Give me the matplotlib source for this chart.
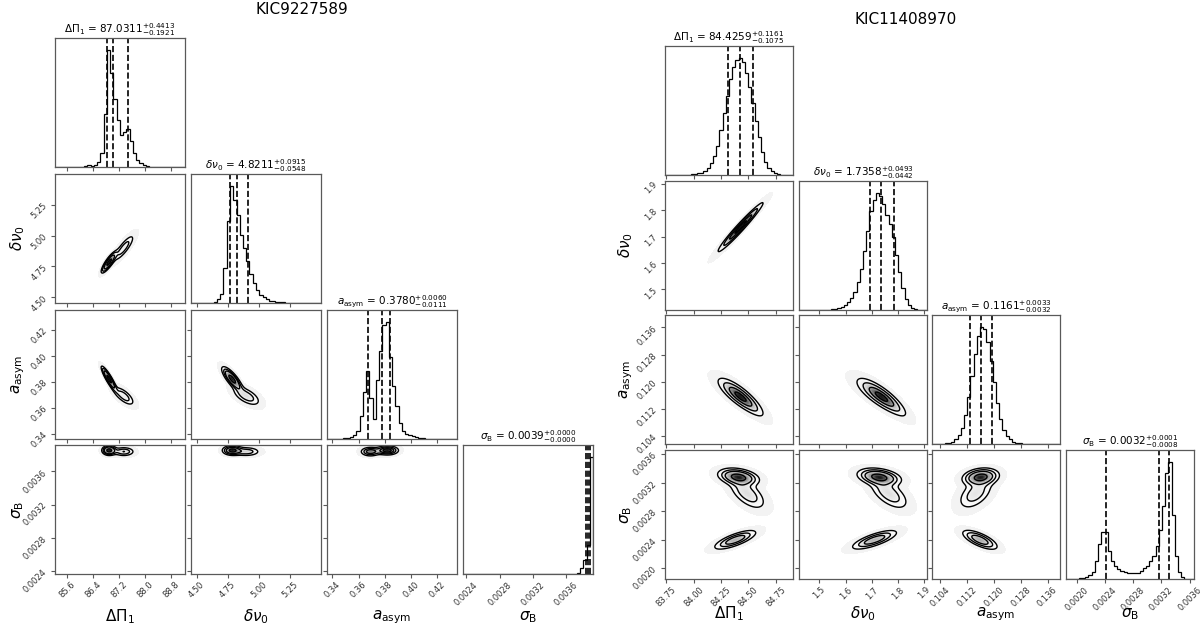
import numpy as np
import matplotlib.pyplot as plt
from matplotlib.colors import LinearSegmentedColormap

W, H = 1200, 628
fig = plt.figure(figsize=(12, 6.28), dpi=100)

labels = [r"$\Delta\Pi_1$", r"$\delta\nu_0$", r"$a_{\rm asym}$", r"$\sigma_{\rm B}$"]

# ---------------- KIC9227589 ----------------
L_ranges = [(85.24, 89.23), (4.454, 5.50), (0.336, 0.435), (0.00236, 0.00392)]
L_ticks = [[85.6, 86.4, 87.2, 88.0, 88.8], [4.50, 4.75, 5.00, 5.25],
           [0.34, 0.36, 0.38, 0.40, 0.42], [0.0024, 0.0028, 0.0032, 0.0036]]
L_ticklabels = [["85.6", "86.4", "87.2", "88.0", "88.8"], ["4.50", "4.75", "5.00", "5.25"],
                ["0.34", "0.36", "0.38", "0.40", "0.42"], ["0.0024", "0.0028", "0.0032", "0.0036"]]
L_titles = [r"$\Delta\Pi_1$ = $87.0311_{-0.1921}^{+0.4413}$",
            r"$\delta\nu_0$ = $4.8211_{-0.0548}^{+0.0915}$",
            r"$a_{\rm asym}$ = $0.3780_{-0.0111}^{+0.0060}$",
            r"$\sigma_{\rm B}$ = $0.0039_{-0.0000}^{+0.0000}$"]
L_quant = [[86.839, 87.031, 87.472], [4.766, 4.821, 4.913],
           [0.3669, 0.3780, 0.3840], [0.00383, 0.003856, 0.003878]]
L_hist_dp = [0, 0, 0, 0, 0, 0, 0, 0, 0, 0.01, 0.015, 0.01, 0.02, 0.04, 0.12, 0.45, 1.0, 0.8, 0.58, 0.4,
             0.27, 0.3, 0.32, 0.22, 0.12, 0.06, 0.03, 0.015, 0.008, 0.004, 0, 0, 0, 0, 0, 0, 0, 0, 0, 0]
L_hist_dnu = [0, 0, 0, 0, 0, 0, 0, 0.01, 0.03, 0.08, 0.3, 0.7, 1.0, 0.88, 0.75, 0.58, 0.47, 0.36, 0.25, 0.17,
              0.11, 0.07, 0.05, 0.03, 0.02, 0.015, 0.01, 0.008, 0.005, 0.003, 0, 0, 0, 0, 0, 0, 0, 0, 0, 0]
L_hist_a = [0, 0, 0, 0, 0, 0.005, 0.01, 0.015, 0.03, 0.07, 0.2, 0.4, 0.58, 0.35, 0.17, 0.5, 0.75, 0.97, 1.0, 0.7,
            0.45, 0.28, 0.14, 0.07, 0.04, 0.03, 0.025, 0.02, 0.01, 0.006, 0.003, 0, 0, 0, 0, 0, 0, 0, 0, 0]
L_hist_sb = [0, 0, 0, 0, 0, 0, 0, 0, 0, 0, 0, 0, 0, 0, 0, 0, 0, 0, 0, 0,
             0, 0, 0, 0, 0, 0, 0, 0, 0, 0, 0, 0, 0, 0, 0.003, 0.01, 0.05, 0.12, 0.25, 1.0]
# mixture components: weight, means, sds, correlations (01, 02, 03, 12, 13, 23)
L_weights = [0.6, 0.4]
L_means = [[86.9, 4.785, 0.382, 0.003855], [87.35, 4.90, 0.369, 0.00384]]
L_sds = [[0.11, 0.04, 0.0045, 0.00003], [0.18, 0.06, 0.004, 0.00003]]
L_corr = [[0.85, -0.9, 0.0, -0.8, 0.0, 0.0], [0.85, -0.7, 0.0, -0.6, 0.0, 0.0]]

# ---------------- KIC11408970 ----------------
R_ranges = [(83.74, 84.906), (1.422, 1.910), (0.1015, 0.1397), (0.00185, 0.00366)]
R_ticks = [[83.75, 84.00, 84.25, 84.50, 84.75], [1.5, 1.6, 1.7, 1.8, 1.9],
           [0.104, 0.112, 0.120, 0.128, 0.136], [0.0020, 0.0024, 0.0028, 0.0032, 0.0036]]
R_ticklabels = [["83.75", "84.00", "84.25", "84.50", "84.75"], ["1.5", "1.6", "1.7", "1.8", "1.9"],
                ["0.104", "0.112", "0.120", "0.128", "0.136"],
                ["0.0020", "0.0024", "0.0028", "0.0032", "0.0036"]]
R_titles = [r"$\Delta\Pi_1$ = $84.4259_{-0.1075}^{+0.1161}$",
            r"$\delta\nu_0$ = $1.7358_{-0.0442}^{+0.0493}$",
            r"$a_{\rm asym}$ = $0.1161_{-0.0032}^{+0.0033}$",
            r"$\sigma_{\rm B}$ = $0.0032_{-0.0008}^{+0.0001}$"]
R_quant = [[84.318, 84.426, 84.542], [1.6916, 1.7358, 1.7851],
           [0.1129, 0.1161, 0.1194], [0.00242, 0.00317, 0.00331]]
R_hist_dp = [0, 0, 0, 0, 0, 0, 0, 0, 0.005, 0.01, 0.015, 0.02, 0.035, 0.06, 0.1, 0.16, 0.25, 0.38, 0.53, 0.67,
             0.82, 0.92, 0.98, 1.0, 0.96, 0.87, 0.75, 0.61, 0.46, 0.32, 0.2, 0.11, 0.06, 0.03, 0.015, 0.008,
             0.004, 0, 0, 0]
R_hist_dnu = [0, 0, 0, 0, 0, 0, 0, 0, 0, 0.003, 0.008, 0.012, 0.018, 0.025, 0.04, 0.065, 0.1, 0.15, 0.24, 0.35,
              0.5, 0.67, 0.84, 0.94, 1.0, 0.97, 0.9, 0.81, 0.73, 0.62, 0.47, 0.32, 0.19, 0.09, 0.04, 0.017,
              0.006, 0, 0, 0]
R_hist_a = [0, 0, 0, 0, 0.005, 0.01, 0.02, 0.04, 0.075, 0.14, 0.25, 0.4, 0.58, 0.77, 0.92, 1.0, 0.98, 0.87,
            0.71, 0.53, 0.35, 0.21, 0.12, 0.07, 0.04, 0.02, 0.01, 0.005, 0, 0, 0, 0, 0, 0, 0, 0, 0, 0, 0, 0]
R_hist_sb = [0, 0, 0.002, 0.004, 0.006, 0.01, 0.015, 0.03, 0.06, 0.15, 0.3, 0.4, 0.4, 0.24, 0.15, 0.11, 0.085,
             0.07, 0.06, 0.055, 0.05, 0.05, 0.055, 0.07, 0.09, 0.11, 0.15, 0.2, 0.28, 0.42, 0.62, 0.9, 1.0,
             0.55, 0.2, 0.06, 0.015, 0, 0, 0]
R_weights = [0.45, 0.3, 0.25]
R_means = [[84.41, 1.728, 0.1160, 0.00328], [84.49, 1.765, 0.1145, 0.00305], [84.38, 1.71, 0.1158, 0.00240]]
R_sds = [[0.09, 0.04, 0.0026, 0.00006], [0.09, 0.04, 0.0028, 0.00012], [0.1, 0.045, 0.0027, 0.00007]]
R_corr = [[0.97, -0.85, -0.3, -0.85, -0.3, 0.2],
          [0.97, -0.85, -0.6, -0.85, -0.6, 0.5],
          [0.97, -0.85, 0.75, -0.85, 0.75, -0.7]]

dens_cmap = LinearSegmentedColormap.from_list("dens", [(1, 1, 1, 0), (0, 0, 0, 1)])
levels = 1.0 - np.exp(-0.5 * np.array([0.5, 1.0, 1.5, 2.0]) ** 2)
spine_c = "0.35"


def px_axes(x, y, w, h):
    return fig.add_axes([x / W, 1 - (y + h) / H, w / W, h / H])


def corr_value(c, a, b):
    idx = {(0, 1): 0, (0, 2): 1, (0, 3): 2, (1, 2): 3, (1, 3): 4, (2, 3): 5}
    return c[idx[(min(a, b), max(a, b))]]


def density(X, Y, j, i, weights, means, sds, corrs):
    Z = np.zeros_like(X)
    for w, m, s, c in zip(weights, means, sds, corrs):
        r = corr_value(c, j, i)
        dx = (X - m[j]) / s[j]
        dy = (Y - m[i]) / s[i]
        q = (dx ** 2 - 2 * r * dx * dy + dy ** 2) / (1 - r ** 2)
        Z += w / (2 * np.pi * s[j] * s[i] * np.sqrt(1 - r ** 2)) * np.exp(-0.5 * q)
    return Z


def style(ax):
    for sp in ax.spines.values():
        sp.set_color(spine_c)
        sp.set_linewidth(0.9)
    ax.tick_params(direction="out", length=3, width=0.8, color=spine_c,
                   labelsize=6, labelcolor="0.2", pad=1.5)


def corner(cols, rows, cw, rh, ranges, ticks, ticklabels, hists, quants, titles,
           weights, means, sds, corrs, xlab_y, ylab_x):
    n = 4
    for i in range(n):
        for j in range(i + 1):
            ax = px_axes(cols[j], rows[i], cw, rh)
            style(ax)
            if i == j:
                h = hists[i]
                edges = np.linspace(ranges[i][0], ranges[i][1], len(h) + 1)
                ax.stairs(h, edges, color="k", lw=0.9)
                for q in quants[i]:
                    ax.axvline(q, ls="--", color="k", lw=1.2)
                ax.set_ylim(0, 1.1 * max(h))
                ax.set_yticks([])
                ax.set_title(titles[i], fontsize=7.5, pad=3)
            else:
                x = np.linspace(ranges[j][0], ranges[j][1], 220)
                y = np.linspace(ranges[i][0], ranges[i][1], 220)
                X, Y = np.meshgrid(x, y)
                Z = density(X, Y, j, i, weights, means, sds, corrs)
                flat = np.sort(Z.ravel())[::-1]
                cum = np.cumsum(flat)
                cum /= cum[-1]
                V = np.sort([flat[min(np.searchsorted(cum, lv), len(flat) - 1)] for lv in levels])
                faint = flat[min(np.searchsorted(cum, 0.985), len(flat) - 1)]
                ax.contourf(X, Y, Z, [faint, V[0]], colors=["#f3f3f3"])
                ax.pcolormesh(X, Y, np.where(Z >= V[0], Z, np.nan), cmap=dens_cmap,
                              vmin=0, vmax=Z.max() * 1.05, shading="auto")
                ax.contour(X, Y, Z, V, colors="k", linewidths=1.0)
                ax.set_ylim(ranges[i])
                ax.set_yticks(ticks[i])
                if j == 0:
                    ax.set_yticklabels(ticklabels[i], rotation=45)
                else:
                    ax.set_yticklabels([])
            ax.set_xlim(ranges[j])
            ax.set_xticks(ticks[j])
            if i == n - 1:
                ax.set_xticklabels(ticklabels[j], rotation=45)
            else:
                ax.set_xticklabels([])
        # axis labels
        fig.text((cols[i] + cw / 2) / W, 1 - xlab_y / H, labels[i], fontsize=11,
                 ha="center", va="center")
        if i > 0:
            fig.text(ylab_x / W, 1 - (rows[i] + rh / 2) / H, labels[i], fontsize=11,
                     ha="center", va="center", rotation=90)


corner([55, 191, 327, 463], [38, 174, 310, 445], 130, 129, L_ranges, L_ticks, L_ticklabels,
       [L_hist_dp, L_hist_dnu, L_hist_a, L_hist_sb], L_quant, L_titles,
       L_weights, L_means, L_sds, L_corr, 617, 18)
corner([665, 799, 932, 1066], [46, 181, 315, 450], 128, 129, R_ranges, R_ticks, R_ticklabels,
       [R_hist_dp, R_hist_dnu, R_hist_a, R_hist_sb], R_quant, R_titles,
       R_weights, R_means, R_sds, R_corr, 614, 626)

fig.text(302 / W, 1 - 10 / H, "KIC9227589", fontsize=11, ha="center", va="center")
fig.text(906 / W, 1 - 19 / H, "KIC11408970", fontsize=11, ha="center", va="center")

fig.savefig("out.png", dpi=100)
